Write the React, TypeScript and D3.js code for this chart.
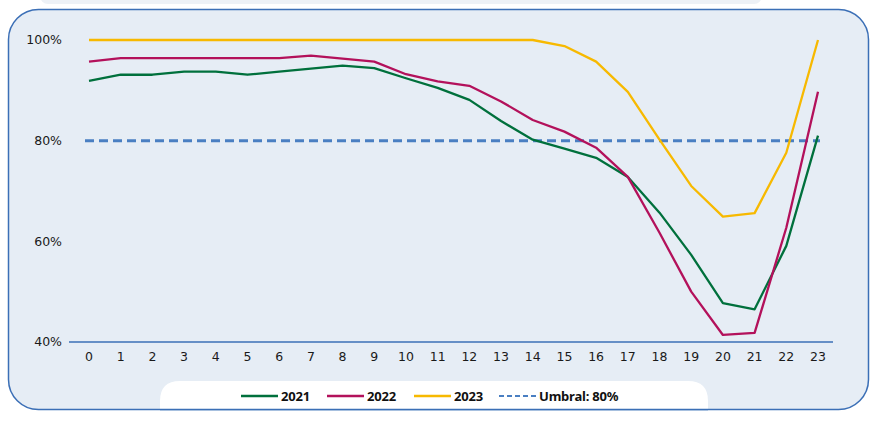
import { useEffect, useRef } from "react";
import * as d3 from "d3";

// hours 0..23
const hours = d3.range(0, 24);

const serie2021 = [
  91.9, 93.1, 93.1, 93.7, 93.7, 93.1, 93.7, 94.3, 94.9, 94.4, 92.4, 90.5,
  88.1, 83.9, 80.2, 78.4, 76.6, 72.8, 65.7, 57.3, 47.7, 46.5, 59.1, 81.0,
];
const serie2022 = [
  95.7, 96.4, 96.4, 96.4, 96.4, 96.4, 96.4, 96.9, 96.3, 95.7, 93.2, 91.8,
  90.9, 87.8, 84.1, 81.8, 78.6, 72.8, 61.7, 50.0, 41.4, 41.8, 62.7, 89.7,
];
const serie2023 = [
  100, 100, 100, 100, 100, 100, 100, 100, 100, 100, 100, 100,
  100, 100, 100, 98.8, 95.7, 89.7, 80.2, 71.0, 64.9, 65.6, 77.6, 100,
];
const umbral = 80;
const yTicks = [40, 60, 80, 100];

const seriesNames = ["2021", "2022", "2023"];
const seriesColors = ["#00703c", "#b3115b", "#f7b900"];

const tickFont = "'DejaVu Sans', Verdana, sans-serif";
const legendFont = "'Noto Sans', Lato, sans-serif";

export default function App() {
  const svgRef = useRef<SVGSVGElement | null>(null);

  useEffect(() => {
    if (!svgRef.current) return;
    const width = 885;
    const height = 421;
    const svg = d3.select(svgRef.current);
    svg.selectAll("*").remove();
    svg.attr("width", width).attr("height", height);

    // top strip (bottom of an element above)
    svg
      .append("rect")
      .attr("x", 40)
      .attr("y", -20)
      .attr("width", 722)
      .attr("height", 24)
      .attr("rx", 8)
      .attr("fill", "#edf1f6");

    // panel
    svg
      .append("rect")
      .attr("x", 8.5)
      .attr("y", 9.5)
      .attr("width", 860)
      .attr("height", 400)
      .attr("rx", 30)
      .attr("fill", "#e6edf5")
      .attr("stroke", "#3b6fb6")
      .attr("stroke-width", 1.5);

    // scales
    const x = d3.scaleLinear().domain([0, 23]).range([89, 818]);
    const y = d3.scaleLinear().domain([40, 100]).range([342, 40]);

    // y tick labels
    svg
      .append("g")
      .selectAll("text")
      .data(yTicks)
      .join("text")
      .attr("x", 62)
      .attr("y", (d) => y(d))
      .attr("dy", "0.35em")
      .attr("text-anchor", "end")
      .style("font-family", tickFont)
      .style("font-size", "12.5px")
      .attr("fill", "#1a1a1a")
      .text((d) => `${d}%`);

    // x axis line
    svg
      .append("line")
      .attr("x1", 69)
      .attr("x2", 833)
      .attr("y1", y(40))
      .attr("y2", y(40))
      .attr("stroke", "#3b6fb6")
      .attr("stroke-width", 1.3);

    svg
      .append("g")
      .selectAll("text")
      .data(hours)
      .join("text")
      .attr("x", (d) => x(d))
      .attr("y", 357)
      .attr("dy", "0.35em")
      .attr("text-anchor", "middle")
      .style("font-family", tickFont)
      .style("font-size", "12.5px")
      .attr("fill", "#1a1a1a")
      .text((d) => String(d));

    // threshold
    svg
      .append("line")
      .attr("x1", x(0) - 4)
      .attr("x2", x(23) + 2)
      .attr("y1", y(umbral))
      .attr("y2", y(umbral))
      .attr("stroke", "#4a7fc2")
      .attr("stroke-width", 3)
      .attr("stroke-dasharray", "9,5");

    const line = d3
      .line<number>()
      .x((_, i) => x(hours[i]))
      .y((d) => y(d));

    [serie2021, serie2022, serie2023].forEach((s, i) => {
      svg
        .append("path")
        .datum(s)
        .attr("d", line)
        .attr("fill", "none")
        .attr("stroke", seriesColors[i])
        .attr("stroke-width", 2.3)
        .attr("stroke-linejoin", "round");
    });

    // legend box
    svg
      .append("path")
      .attr(
        "d",
        `M160,409 L160,401 Q160,381 180,381 L688,381 Q708,381 708,401 L708,409 Z`
      )
      .attr("fill", "#ffffff");
    svg
      .append("line")
      .attr("x1", 160)
      .attr("x2", 708)
      .attr("y1", 409.5)
      .attr("y2", 409.5)
      .attr("stroke", "#3b6fb6")
      .attr("stroke-width", 1.5);

    const legendItems = [
      { label: seriesNames[0], color: seriesColors[0], x0: 241, dash: false },
      { label: seriesNames[1], color: seriesColors[1], x0: 327, dash: false },
      { label: seriesNames[2], color: seriesColors[2], x0: 414, dash: false },
      { label: `Umbral: ${umbral}%`, color: "#4a7fc2", x0: 499, dash: true },
    ];
    const lg = svg.append("g");
    legendItems.forEach((it) => {
      lg.append("line")
        .attr("x1", it.x0)
        .attr("x2", it.x0 + 37)
        .attr("y1", 396)
        .attr("y2", 396)
        .attr("stroke", it.color)
        .attr("stroke-width", it.dash ? 2 : 2.5)
        .attr("stroke-dasharray", it.dash ? "5,3" : null);
      lg.append("text")
        .attr("x", it.x0 + 40)
        .attr("y", 396)
        .attr("dy", "0.35em")
        .style("font-family", legendFont)
        .style("font-weight", "700")
        .style("font-size", "13px")
        .style("letter-spacing", "-0.2px")
        .attr("fill", "#111")
        .text(it.label);
    });
  }, []);

  return (
    <svg
      ref={svgRef}
      style={{ position: "absolute", left: 0, top: 0, background: "#ffffff" }}
    />
  );
}
